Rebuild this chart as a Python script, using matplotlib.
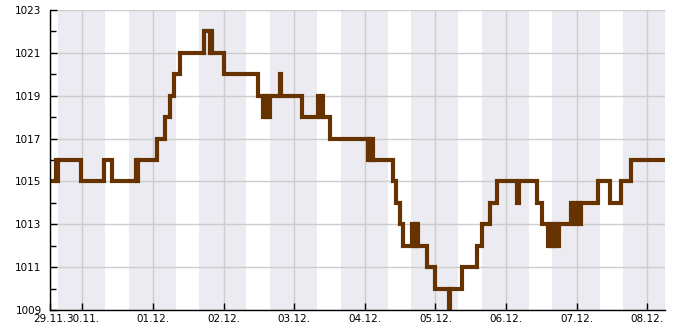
import matplotlib
matplotlib.use("Agg")
import matplotlib.pyplot as plt
import matplotlib.dates as mdates
from matplotlib.ticker import FixedLocator
import pandas as pd

# ---- data ----
start = pd.Timestamp("2023-11-29 13:00")
end = pd.Timestamp("2023-12-08 06:00")

hours = [0, 2.0, 2.4, 2.7, 10.5, 18.5, 21.1, 29.2, 29.6, 29.9,
         36.2, 39.1, 40.8, 42.3, 44.2, 52.2, 54.4, 54.7, 55.2, 59.2,
         70.7, 72.4, 72.9, 73.3, 73.8, 74.2, 74.8, 78.2, 78.6, 85.7,
         91.0, 91.3, 92.6, 92.9, 95.0, 108.1, 108.5, 108.9, 109.3, 109.6,
         116.4, 117.5, 118.8, 120.0, 122.9, 123.4, 123.9, 124.4, 124.8, 125.2,
         128.1, 130.9, 135.6, 136.0, 139.9, 145.2, 146.7, 149.4, 152.0, 158.7,
         159.3, 165.6, 167.3, 169.3, 169.8, 170.3, 170.8, 171.4, 171.9, 172.4,
         173.0, 177.1, 177.6, 178.2, 178.8, 179.4, 180.0, 180.5, 186.4, 190.3,
         193.9, 197.3, 209.0]
pressure = [1015, 1016, 1015, 1016, 1015, 1016, 1015, 1016, 1015, 1016,
            1017, 1018, 1019, 1020, 1021, 1022, 1021, 1022, 1021, 1020,
            1019, 1018, 1019, 1018, 1019, 1018, 1019, 1020, 1019, 1018,
            1019, 1018, 1019, 1018, 1017, 1016, 1017, 1016, 1017, 1016,
            1015, 1014, 1013, 1012, 1013, 1012, 1013, 1012, 1013, 1012,
            1011, 1010, 1009, 1010, 1011, 1012, 1013, 1014, 1015, 1014,
            1015, 1014, 1013, 1012, 1013, 1012, 1013, 1012, 1013, 1012,
            1013, 1014, 1013, 1014, 1013, 1014, 1013, 1014, 1015, 1014,
            1015, 1016, 1016]

y_major = [1009, 1011, 1013, 1015, 1017, 1019, 1021, 1023]
y_minor = [1010, 1012, 1014, 1016, 1018, 1020, 1022]

night_start_hour = 15.75
night_end_hour = 7.75
y_min, y_max = 1009, 1023

# ---- figure ----
fig = plt.figure(figsize=(6.85, 3.30), dpi=100)
ax = fig.add_axes([50 / 685, 20 / 330, 615 / 685, 300 / 330])

times = [start + pd.Timedelta(hours=h) for h in hours]

# night bands
day = start.normalize() - pd.Timedelta(days=1)
while day <= end:
    s = day + pd.Timedelta(hours=night_start_hour)
    e = day + pd.Timedelta(days=1, hours=night_end_hour)
    ax.axvspan(s, e, color="#ebebf1", lw=0, zorder=0)
    day += pd.Timedelta(days=1)

ax.step(times, pressure, where="post", color="#663300", lw=3, zorder=3,
        solid_joinstyle="miter")

ax.set_xlim(start, end)
ax.set_ylim(y_min, y_max)

# x ticks: left edge plus each midnight
midnights = pd.date_range(start.normalize() + pd.Timedelta(days=1), end, freq="D")
xticks = [start] + list(midnights)
ax.set_xticks(xticks)
ax.xaxis.set_major_formatter(mdates.DateFormatter("%d.%m."))

ax.yaxis.set_major_locator(FixedLocator(y_major))
ax.yaxis.set_minor_locator(FixedLocator(y_minor))

ax.grid(True, which="major", color="#cccccc", lw=1, zorder=1)
ax.set_axisbelow(True)

for side in ("top", "right"):
    ax.spines[side].set_visible(False)
for side in ("left", "bottom"):
    ax.spines[side].set_color("black")
    ax.spines[side].set_linewidth(1)
    ax.spines[side].set_zorder(4)

ax.tick_params(axis="both", which="major", direction="in", length=5,
               width=1, labelsize=7.5, colors="black")
ax.tick_params(axis="y", which="minor", direction="in", length=4, width=1)
ax.tick_params(axis="y", which="both", pad=6)
ax.tick_params(axis="x", which="major", pad=3)

fig.savefig("out.png", dpi=100)
